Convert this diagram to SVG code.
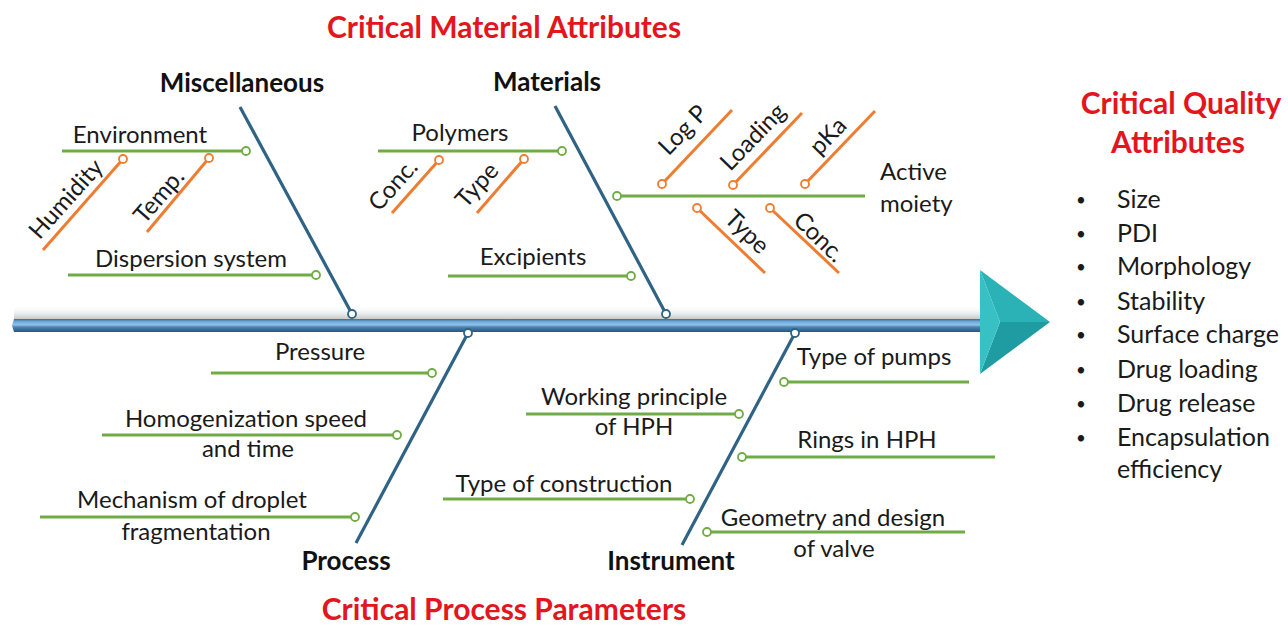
<svg xmlns="http://www.w3.org/2000/svg" width="1288" height="626" viewBox="0 0 1288 626">
<defs>
<style>
text{font-family:Lato,"Open Sans","Liberation Sans",sans-serif;fill:#1a1a1a}
.lbl{font-size:24px;text-anchor:middle}
.st{font-size:24px;text-anchor:start}
.hd{font-size:26px;font-weight:bold;text-anchor:middle;fill:#111}
.red{font-size:30px;font-weight:bold;text-anchor:middle;fill:#e3151d}
.bl{font-size:25px}
.dot{font-size:17px}
.g{stroke:#6fac46;stroke-width:3;fill:none}
.o{stroke:#ee7d31;stroke-width:3;fill:none}
.b{stroke:#2f6385;stroke-width:3.2;fill:none}
.gc{stroke:#6fac46;stroke-width:1.8;fill:#fff}
.oc{stroke:#ee7d31;stroke-width:1.8;fill:#fff}
.bc{stroke:#2f6385;stroke-width:1.8;fill:#fff}
</style>
<linearGradient id="spine" x1="0" y1="0" x2="0" y2="1">
<stop offset="0" stop-color="#3a6c96"/>
<stop offset="0.2" stop-color="#6fa8d8"/>
<stop offset="0.45" stop-color="#8fc3ea"/>
<stop offset="0.62" stop-color="#4d84b3"/>
<stop offset="1" stop-color="#27557f"/>
</linearGradient>
<linearGradient id="shadow" x1="0" y1="0" x2="0" y2="1">
<stop offset="0" stop-color="#ffffff" stop-opacity="0"/>
<stop offset="1" stop-color="#c8c8c8"/>
</linearGradient>
</defs>
<rect width="1288" height="626" fill="#fff"/>

<g id="titles">
<text class="red" x="504" y="38">Critical Material Attributes</text>
<text class="red" x="504" y="620">Critical Process Parameters</text>
</g>

<g id="spine">
<rect x="14" y="305" width="966" height="14" fill="url(#shadow)"/>
<path d="M14 319 H980 V332 H14 L12 325.5 Z" fill="url(#spine)"/>
</g>

<g id="head">
<polygon points="980,270 1050,322 1000,322" fill="#2ab2b7"/>
<polygon points="980,374 1050,322 1000,322" fill="#1f9ca2"/>
<polygon points="980,270 1000,322 980,374" fill="#38c1c5"/>
</g>

<g id="connectors">
<line class="b" x1="240" y1="107" x2="352" y2="314"/>
<line class="b" x1="555" y1="106" x2="666" y2="314"/>
<line class="b" x1="468" y1="333" x2="356" y2="543"/>
<line class="b" x1="795" y1="333" x2="682" y2="545"/>
<circle class="bc" cx="352" cy="314" r="4"/>
<circle class="bc" cx="666" cy="314" r="4"/>
<circle class="bc" cx="468" cy="333" r="4"/>
<circle class="bc" cx="795" cy="333" r="4"/>
</g>

<g id="miscellaneous">
<text class="hd" x="242" y="92">Miscellaneous</text>
<line class="g" x1="62" y1="151" x2="246" y2="151"/><circle class="gc" cx="246" cy="151" r="4"/>
<text class="lbl" x="140" y="143">Environment</text>
<line class="o" x1="43" y1="250" x2="123" y2="159"/><circle class="oc" cx="123" cy="159" r="4"/>
<text class="lbl" transform="translate(66,199) rotate(-48)" y="8">Humidity</text>
<line class="o" x1="147" y1="232" x2="209" y2="158"/><circle class="oc" cx="209" cy="158" r="4"/>
<text class="lbl" transform="translate(159,196) rotate(-49)" y="8">Temp.</text>
<line class="g" x1="68" y1="275" x2="316" y2="275"/><circle class="gc" cx="316" cy="275" r="4"/>
<text class="lbl" x="191" y="267">Dispersion system</text>
</g>

<g id="materials">
<text class="hd" x="547" y="91">Materials</text>
<line class="g" x1="378" y1="151" x2="562" y2="151"/><circle class="gc" cx="562" cy="151" r="4"/>
<text class="lbl" x="460" y="141">Polymers</text>
<line class="o" x1="392" y1="213" x2="439" y2="160"/><circle class="oc" cx="439" cy="160" r="4"/>
<text class="lbl" transform="translate(393,185) rotate(-48)" y="8">Conc.</text>
<line class="o" x1="477" y1="213" x2="524" y2="159"/><circle class="oc" cx="524" cy="159" r="4"/>
<text class="lbl" transform="translate(477,185) rotate(-48)" y="8">Type</text>
<line class="g" x1="448" y1="276" x2="631" y2="276"/><circle class="gc" cx="631" cy="276" r="4"/>
<text class="lbl" x="533" y="265">Excipients</text>
</g>

<g id="active-moiety">
<line class="g" x1="617" y1="196" x2="865" y2="196"/><circle class="gc" cx="617" cy="196" r="4"/>
<text class="st" x="880" y="180">Active</text>
<text class="st" x="880" y="212">moiety</text>
<line class="o" x1="662" y1="184" x2="732" y2="110"/><circle class="oc" cx="662" cy="184" r="4"/>
<text class="lbl" transform="translate(683,130) rotate(-46)" y="8">Log P</text>
<line class="o" x1="733" y1="185" x2="802" y2="113"/><circle class="oc" cx="733" cy="185" r="4"/>
<text class="lbl" transform="translate(753,137) rotate(-46)" y="8">Loading</text>
<line class="o" x1="805" y1="184" x2="875" y2="111"/><circle class="oc" cx="805" cy="184" r="4"/>
<text class="lbl" transform="translate(828,136) rotate(-46)" y="8">pKa</text>
<line class="o" x1="697" y1="208" x2="765" y2="273"/><circle class="oc" cx="697" cy="208" r="4"/>
<text class="lbl" transform="translate(747,232) rotate(44)" y="8">Type</text>
<line class="o" x1="770" y1="208" x2="839" y2="273"/><circle class="oc" cx="770" cy="208" r="4"/>
<text class="lbl" transform="translate(819,237) rotate(44)" y="8">Conc.</text>
</g>

<g id="process">
<text class="hd" x="346" y="570">Process</text>
<line class="g" x1="211" y1="373" x2="432" y2="373"/><circle class="gc" cx="432" cy="373" r="4"/>
<text class="lbl" x="320" y="360">Pressure</text>
<line class="g" x1="102" y1="435" x2="397" y2="435"/><circle class="gc" cx="397" cy="435" r="4"/>
<text class="lbl" x="246" y="427">Homogenization speed</text>
<text class="lbl" x="248" y="457">and time</text>
<line class="g" x1="40" y1="517" x2="355" y2="517"/><circle class="gc" cx="355" cy="517" r="4"/>
<text class="lbl" x="192" y="508">Mechanism of droplet</text>
<text class="lbl" x="196" y="540">fragmentation</text>
</g>

<g id="instrument">
<text class="hd" x="671" y="570">Instrument</text>
<line class="g" x1="784" y1="382" x2="969" y2="382"/><circle class="gc" cx="784" cy="382" r="4"/>
<text class="lbl" x="874" y="365">Type of pumps</text>
<line class="g" x1="526" y1="414" x2="739" y2="414"/><circle class="gc" cx="739" cy="414" r="4"/>
<text class="lbl" x="634" y="405">Working principle</text>
<text class="lbl" x="634" y="435">of HPH</text>
<line class="g" x1="742" y1="457" x2="995" y2="457"/><circle class="gc" cx="742" cy="457" r="4"/>
<text class="lbl" x="867" y="448">Rings in HPH</text>
<line class="g" x1="443" y1="499" x2="690" y2="499"/><circle class="gc" cx="690" cy="499" r="4"/>
<text class="lbl" x="564" y="492">Type of construction</text>
<line class="g" x1="707" y1="532" x2="965" y2="532"/><circle class="gc" cx="707" cy="532" r="4"/>
<text class="lbl" x="833" y="526">Geometry and design</text>
<text class="lbl" x="834" y="557">of valve</text>
</g>

<g id="cqa">
<text class="red" x="1181" y="114">Critical Quality</text>
<text class="red" x="1178" y="153">Attributes</text>
<g class="dot">
<text x="1076" y="206">•</text>
<text x="1076" y="240">•</text>
<text x="1076" y="273">•</text>
<text x="1076" y="308">•</text>
<text x="1076" y="341">•</text>
<text x="1076" y="376">•</text>
<text x="1076" y="410">•</text>
<text x="1076" y="444">•</text>
</g>
<g class="bl">
<text x="1117" y="208">Size</text>
<text x="1117" y="242">PDI</text>
<text x="1117" y="275">Morphology</text>
<text x="1117" y="310">Stability</text>
<text x="1117" y="343">Surface charge</text>
<text x="1117" y="378">Drug loading</text>
<text x="1117" y="412">Drug release</text>
<text x="1117" y="446">Encapsulation</text>
<text x="1117" y="478">efficiency</text>
</g>
</g>
</svg>
